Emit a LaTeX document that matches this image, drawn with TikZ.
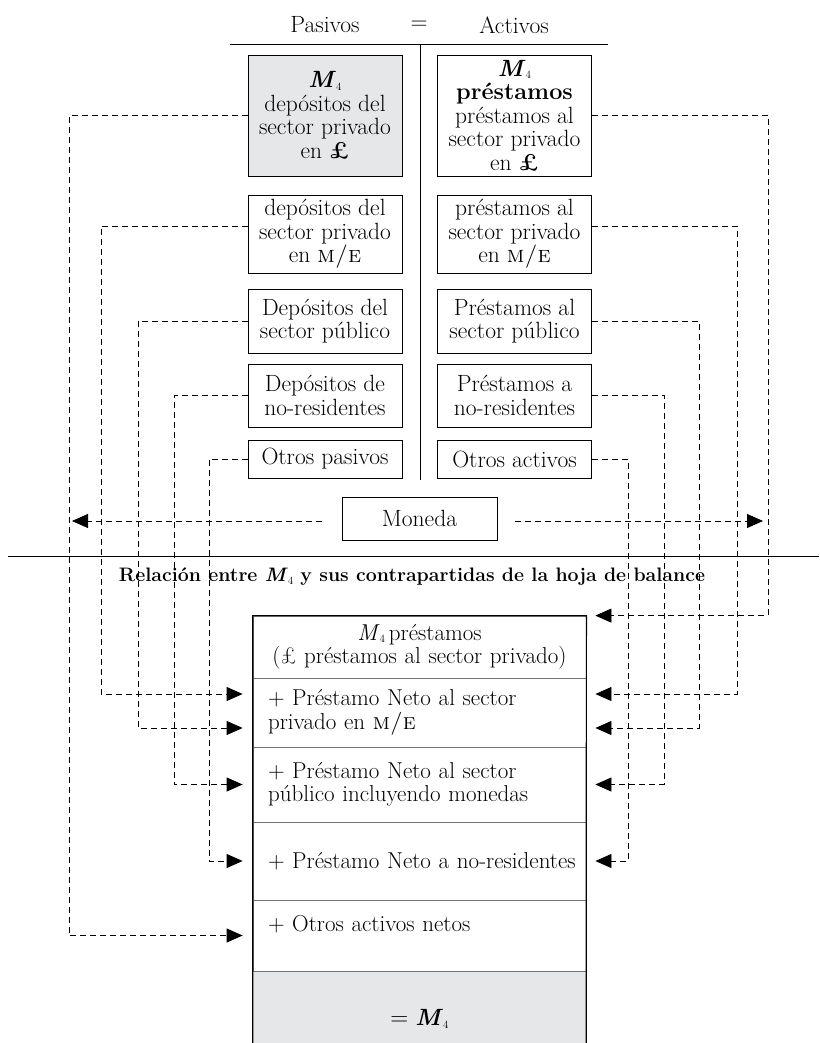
\documentclass[tikz,border=0pt]{standalone}
\usetikzlibrary{arrows.meta}
\definecolor{grisclaro}{HTML}{E6E7E8}
\newcommand{\emcuatro}{\textit{M}\raisebox{-0.25ex}{\fontsize{11}{11}\selectfont\mdseries 4}}

\begin{document}
\begin{tikzpicture}[x=1pt,y=-1pt,
  font=\fontsize{23.5}{23.5}\selectfont,
  cuenta/.style={draw,line width=0.8pt,minimum width=154pt,align=center,inner sep=2pt},
  fila/.style={draw=black!55,line width=0.8pt,minimum width=333pt,text width=303pt,inner xsep=15pt,align=left,font=\fontsize{23}{23.5}\selectfont},
  flujo/.style={line width=0.8pt,dash pattern=on 6pt off 4pt,-{Triangle[length=16pt,width=14pt]},shorten >=10pt}]
  \useasboundingbox (0,0) rectangle (819,1043);

  % encabezado
  \node (pas) at (325,25) {Pasivos};
  \node (igual) at (419,25) {=};
  \node (act) at (514,25) {Activos};
  \draw[line width=1pt] (230,45) -- (608,45);
  \draw[line width=1pt] (420,45) -- (420,480);

  % pasivos
  \node[cuenta,fill=grisclaro,minimum height=121pt] (p1) at (325,115.5) {\textbf{\emcuatro}\\depósitos del\\sector privado\\en \textbf{£}};
  \node[cuenta,minimum height=78pt] (p2) at (325,234) {depósitos del\\sector privado\\en \textsc{m/e}};
  \node[cuenta,minimum height=64pt] (p3) at (325,321) {Depósitos del\\sector público};
  \node[cuenta,minimum height=63pt] (p4) at (325,395.5) {Depósitos de\\no-residentes};
  \node[cuenta,minimum height=38pt] (p5) at (325,459) {Otros pasivos};

  % activos
  \node[cuenta,minimum height=121pt] (a1) at (514.5,115.5) {\textbf{\emcuatro}\\\textbf{préstamos}\\préstamos al\\sector privado\\en \textbf{£}};
  \node[cuenta,minimum height=78pt] (a2) at (514.5,234) {préstamos al\\sector privado\\en \textsc{m/e}};
  \node[cuenta,minimum height=64pt] (a3) at (514.5,321) {Préstamos al\\sector público};
  \node[cuenta,minimum height=63pt] (a4) at (514.5,395.5) {Préstamos a\\no-residentes};
  \node[cuenta,minimum height=38pt] (a5) at (514.5,459) {Otros activos};

  \node[cuenta,minimum width=155pt,minimum height=43pt] (mon) at (419.5,518.5) {Moneda};

  \draw[line width=1pt] (8,556) -- (819,556);
  \node[font=\bfseries\fontsize{19.5}{22}\selectfont] (titulo) at (412,577)
    {Relación entre \emcuatro{} y sus contrapartidas de la hoja de balance};

  % cuadro de contrapartidas
  \node[fill=grisclaro,minimum width=333pt,minimum height=72pt,inner sep=0pt] (r6) at (419.5,1007) {};
  \node[fila,align=center,text width=325pt,inner xsep=4pt,minimum height=62pt] (r1) at (419.5,647) {\emcuatro\,préstamos\\(£ préstamos al sector privado)};
  \node[fila,minimum height=69pt] (r2) at (419.5,712.5) {+ Préstamo Neto al sector\\privado en \textsc{m/e}};
  \node[fila,minimum height=75pt] (r3) at (419.5,784.5) {+ Préstamo Neto al sector\\público incluyendo monedas};
  \node[fila,minimum height=78pt] (r4) at (419.5,861) {\mbox{+ Préstamo Neto a no-residentes}};
  \node[fila,minimum height=71pt] (r5) at (419.5,935.5) {+ Otros activos netos\\\mbox{}};
  \node (total) at (419.5,1019) {$=$ \textbf{\emcuatro}};
  \draw[line width=1.2pt] (r6.south west) |- (r1.north east) -- (r6.south east);

  % columnas de las flechas
  \coordinate (lc1) at (69,0);
  \coordinate (lc2) at (101,0);
  \coordinate (lc3) at (138,0);
  \coordinate (lc4) at (174,0);
  \coordinate (lc5) at (209,0);
  \coordinate (rc1) at (768,0);
  \coordinate (rc2) at (737,0);
  \coordinate (rc3) at (699,0);
  \coordinate (rc4) at (664,0);
  \coordinate (rc5) at (628,0);
  \coordinate (p2s) at ([yshift=8pt]p2.west);
  \coordinate (a2s) at ([yshift=8pt]a2.east);
  \coordinate (r2a) at ([yshift=18.5pt]r2.west);
  \coordinate (r2b) at ([yshift=-15.5pt]r2.west);
  \coordinate (r2c) at ([yshift=18.5pt]r2.east);
  \coordinate (r2d) at ([yshift=-15.5pt]r2.east);
  \coordinate (mw) at ([yshift=-2.5pt]mon.west);
  \coordinate (me) at ([yshift=-2.5pt]mon.east);

  % pasivos -> contrapartidas
  \draw[flujo] (p1.west) -- (p1.west -| lc1) |- (r5.west);
  \draw[flujo] (p2s) -- (p2s -| lc2) |- (r2a);
  \draw[flujo] (p3.west) -- (p3.west -| lc3) |- (r2b);
  \draw[flujo] (p4.west) -- (p4.west -| lc4) |- (r3.west);
  \draw[flujo] (p5.west) -- (p5.west -| lc5) |- (r4.west);

  % activos -> contrapartidas
  \draw[flujo,shorten >=9pt] (a1.east) -- (a1.east -| rc1) |- (r1.north east);
  \draw[flujo,shorten >=9pt] (a2s) -- (a2s -| rc2) |- (r2c);
  \draw[flujo,shorten >=9pt] (a3.east) -- (a3.east -| rc3) |- (r2d);
  \draw[flujo,shorten >=9pt] (a4.east) -- (a4.east -| rc4) |- (r3.east);
  \draw[flujo,shorten >=9pt] (a5.east) -- (a5.east -| rc5) |- (r4.east);

  % moneda
  \draw[flujo,shorten <=20pt,shorten >=3pt] (mw) -- (mw -| lc1);
  \draw[flujo,shorten <=18pt,shorten >=5pt] (me) -- (me -| rc1);
\end{tikzpicture}
\end{document}
